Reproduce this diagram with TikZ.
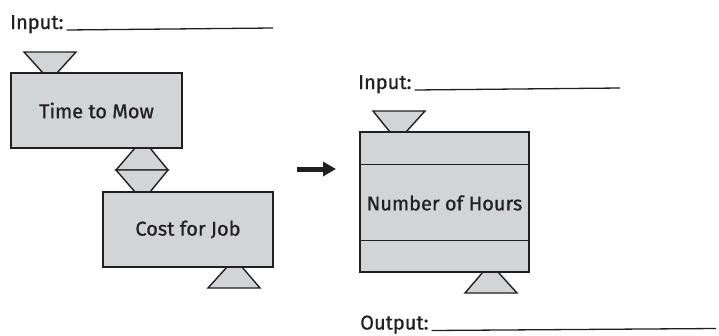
\documentclass[tikz,border=0pt]{standalone}
\usepackage{fontspec}
\setmainfont{Fira Sans}[FakeBold=0.8]
\usetikzlibrary{arrows.meta}
\definecolor{boxgray}{HTML}{D3D4D6}
\definecolor{ink}{HTML}{231F20}
\begin{document}
\begin{tikzpicture}[x=1pt,y=-1pt,
  box/.style={draw=ink,fill=boxgray,line width=1.4pt,minimum width=#1,inner sep=0pt,font=\fontsize{20}{24}\selectfont,text=ink},
  lbl/.style={anchor=base west,inner sep=0pt,font=\fontsize{20}{24}\selectfont,text=ink},
  blank/.style={draw=ink,line width=1.3pt},
  fun/.style={draw=ink,fill=boxgray,line width=1.4pt,line join=miter}]
\useasboundingbox (0,0) rectangle (719,335);
% labels
\node[lbl] (in1) at (10,29) {Input:};
\coordinate (in1e) at (273,28);
\draw[blank] ([xshift=3pt,yshift=-1pt]in1.base east) -- (in1e);
\node[lbl] (in2) at (358,89) {Input:};
\coordinate (in2e) at (620,88);
\draw[blank] ([xshift=3pt,yshift=-1pt]in2.base east) -- (in2e);
\node[lbl] (out) at (360,329.5) {Output:};
\coordinate (oute) at (716,328.5);
\draw[blank] ([xshift=3pt,yshift=-1pt]out.base east) -- (oute);
% funnels
\draw[fun] (24,52) -- (76,52) -- (57,73) -- (43,73) -- cycle;
\draw[fun] (135,148) -- (150,148) -- (168,170) -- (116,170) -- cycle;
\draw[fun] (116,170) -- (168,170) -- (150,192) -- (135,192) -- cycle;
\draw[fun] (227,267) -- (242,267) -- (260,288) -- (208,288) -- cycle;
\draw[fun] (373,111) -- (425,111) -- (406,132) -- (390,132) -- cycle;
\draw[fun] (483,272) -- (498,272) -- (517,293) -- (465,293) -- cycle;
% boxes
\node[box=171pt,minimum height=75pt] (mow) at (96.5,110.5) {Time to Mow};
\node[box=170pt,minimum height=75pt] (cost) at (188,229.5) {Cost for Job};
\node[box=169pt,minimum height=140pt] (hours) at (444.5,202) {};
\node[inner sep=0pt,font=\fontsize{20}{24}\selectfont,text=ink] (hourst) at (444.5,203) {Number of Hours};
\draw[draw=ink,line width=1.4pt] ([yshift=-33pt]hours.north west) -- ([yshift=-33pt]hours.north east);
\draw[draw=ink,line width=1.4pt] ([yshift=32pt]hours.south west) -- ([yshift=32pt]hours.south east);
% arrow
\coordinate (a1) at (297,169);
\coordinate (a2) at (336,169);
\draw[draw=ink,line width=5pt,-{Triangle[length=13pt,width=14pt]}] (a1) -- (a2);
\end{tikzpicture}
\end{document}
